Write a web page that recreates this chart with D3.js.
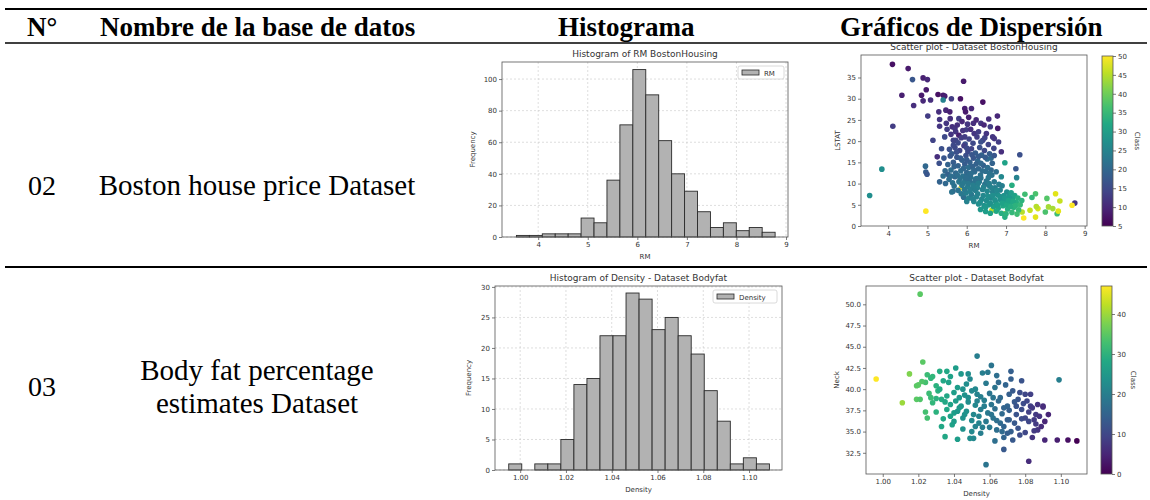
<!DOCTYPE html>
<html>
<head>
<meta charset="utf-8">
<script src="https://cdn.jsdelivr.net/npm/d3@7"></script>
<style>
    body { margin: 0; background: #fff; }
    svg { display: block; font-family: "DejaVu Sans", sans-serif; }
    .cell { font-family: "Liberation Serif", "Times New Roman", serif; fill: #000; }
    .tick text { fill: #333; }
</style>
</head>
<body>
<svg id="chart" width="1150" height="500"></svg>
<script>
// table texts
var headers = ["N°", "Nombre de la base de datos", "Histograma", "Gráficos de Dispersión"];
var rowNumbers = ["02", "03"];
var rowNames = [["Boston house price Dataset"], ["Body fat percentage", "estimates Dataset"]];

// histogram of RM (Boston housing), 20 bins between min and max
var rmRange = [3.561, 8.78];
var rmCounts = [1, 1, 2, 2, 2, 12, 9, 36, 71, 106, 90, 61, 40, 29, 16, 6, 9, 4, 6, 3];
var rmTicks = [4, 5, 6, 7, 8, 9];
var freqTicksBoston = [0, 20, 40, 60, 80, 100];

// histogram of Density (Bodyfat), 20 bins
var densityRange = [0.995, 1.1089];
var densityCounts = [1, 0, 1, 1, 5, 14, 15, 22, 22, 29, 28, 23, 25, 22, 19, 13, 8, 1, 2, 1];
var densityTicks = [1.00, 1.02, 1.04, 1.06, 1.08, 1.10];
var freqTicksBodyfat = [0, 5, 10, 15, 20, 25, 30];

// scatter Boston: [RM, LSTAT, Class]
var bostonPoints = [
    [4.11,38.1,7],[4.51,37.1,8],[4.62,34.5,17],[4.35,30.8,9],[4.65,28.4,11],[4.12,23.5,13],[3.84,13.4,27],
    [3.53,7.2,27],[4.96,3.5,50],[4.89,34.9,9],[5.0,34.5,10],[4.85,30.8,8],[4.89,29.5,10],[4.97,32.1,8],
    [5.08,29.7,11],[5.01,25.9,13],[4.95,14.1,20],[4.96,12.7,18],[4.99,12.2,17],[5.27,31.0,7],[5.4,30.8,8],
    [5.44,30.6,9],[5.4,29.7,25],[5.61,30.0,13],[5.84,30.0,7],[5.92,34.1,8],[6.41,29.2,7],[5.95,27.7,9],
    [6.12,27.7,10],[5.97,26.9,8],[6.78,25.9,10],[5.14,20.2,14],[5.25,16.3,11],[5.31,25.1,12],[5.29,26.9,11],
    [5.47,27.3,10],[5.57,26.9,9],[5.48,24.2,12],[5.58,25.3,11],[5.8,25.3,13],[5.31,23.5,12],[5.63,23.4,11],
    [5.72,22.2,12],[5.8,21.4,9],[5.99,22.7,13],[6.17,24.2,11],[6.36,24.2,12],[6.44,23.8,10],[6.6,23.4,13],
    [6.79,23.0,8],[6.19,21.8,12],[6.41,20.2,14],[6.66,21.0,12],[6.81,19.8,13],[6.88,17.5,11],[5.44,21.0,15],
    [5.72,20.2,14],[5.95,21.0,13],[6.69,18.3,14],[7.35,16.8,16],[6.97,14.9,31],[7.25,13.5,17],[7.27,11.4,25],
    [6.88,11.6,26],[6.64,12.0,22],[7.15,9.6,33],[6.22,9.6,50],[5.86,9.0,50],[5.31,10.4,19],[5.65,8.2,20],
    [5.92,6.8,21],[7.48,7.5,36],[7.75,7.6,37],[7.66,6.7,35],[8.26,7.6,48],[8.37,5.9,46],[8.75,5.4,12],
    [8.68,4.9,50],[8.04,6.5,38],[8.08,4.5,44],[8.0,3.3,37],[7.75,2.1,48],[7.45,1.9,50],[7.41,3.3,45],
    [7.61,3.7,46],[7.81,4.1,47],[7.77,4.6,45],[8.19,4.1,44],[8.3,2.9,36],[8.33,3.5,48],[6.97,2.9,47],
    [6.97,2.1,33],[6.64,3.7,46],
    [5.66,20.2,14],[5.78,19.6,15],[5.86,20.8,13],[5.96,19.3,16],[6.06,20.5,14],[6.16,19.5,15],[6.26,21.0,13],
    [6.36,19.8,16],[6.46,20.8,14],[5.70,23.0,12],[5.90,22.5,12],[6.10,22.8,11],[6.30,22.2,13],[6.50,21.8,12],
    [5.56,18.1,16],[5.62,17.0,18],[5.70,18.5,15],[5.75,16.2,17],[5.82,17.8,14],[5.88,15.5,19],[5.93,18.9,13],
    [5.98,16.6,16],[6.03,17.5,15],[6.08,15.0,19],[6.12,18.2,14],[6.17,16.0,17],[6.22,17.2,18],[6.28,15.3,20],
    [6.33,18.5,16],[6.38,16.7,19],[6.45,17.8,15],[6.52,15.8,21],[6.58,17.0,18],[6.62,16.0,20],
    [5.52,14.5,19],[5.60,13.2,21],[5.66,15.0,18],[5.72,12.5,20],[5.78,14.2,19],[5.85,13.0,21],[5.90,11.8,22],
    [5.95,14.6,18],[6.00,12.6,20],[6.05,13.8,21],[6.10,11.5,22],[6.15,14.0,19],[6.20,12.8,21],[6.25,11.2,23],
    [6.30,13.5,20],[6.35,12.0,22],[6.42,14.3,19],[6.48,12.9,21],[6.55,11.4,23],[6.62,13.2,20],
    [5.55,11.0,21],[5.64,10.2,22],[5.70,11.6,20],[5.80,10.4,23],[5.88,9.6,23],[5.96,10.8,22],[6.02,9.2,24],
    [6.08,10.6,21],[6.14,8.8,24],[6.19,10.1,22],[6.27,9.0,25],[6.32,10.4,23],[6.40,8.6,25],[6.46,9.8,22],
    [6.52,8.2,26],[6.58,9.4,24],[6.66,8.0,25],[6.72,9.0,24],[6.78,7.4,27],[6.85,8.5,25],
    [5.98,7.8,24],[6.05,6.6,25],[6.12,7.4,23],[6.18,5.8,26],[6.25,6.9,25],[6.30,5.2,27],[6.38,6.3,26],
    [6.44,4.8,28],[6.50,6.0,27],[6.56,5.0,29],[6.62,6.6,26],[6.68,4.6,30],[6.74,5.6,29],[6.80,4.2,31],
    [6.86,6.2,28],[6.92,4.8,32],[6.98,5.8,30],[7.04,4.0,33],[7.10,5.2,32],[7.16,6.4,30],[7.20,4.4,34],
    [7.26,5.6,33],[7.32,3.8,35],[7.08,7.0,29],[7.02,8.0,27],[6.95,7.2,28],[6.90,9.5,24],[7.13,7.8,30],
    [7.22,7.2,31],[6.35,3.9,29],[6.48,3.4,30],[6.60,3.0,31],[6.75,3.5,32],[6.88,3.0,33],[7.00,2.9,34],
    [7.15,3.2,35],[7.28,2.8,36],[5.45,13.0,20],[5.40,11.8,21],[5.46,10.0,20],[5.62,8.0,22],[5.52,12.2,19],
    [5.58,16.5,17],[5.68,14.0,19],[5.74,17.4,16],[5.84,16.0,18],[5.92,13.6,20],[6.00,15.6,18],[6.06,12.0,21],
    [6.13,16.8,17],[6.18,13.2,20],[6.24,14.6,19],[6.30,16.4,18],[6.36,14.8,20],[6.40,13.0,21],[6.47,16.2,18],
    [6.53,13.8,21],[6.58,12.4,22],[6.65,14.8,19],[6.70,16.6,17],[6.75,12.8,21],
    [5.60,11.8,21],[5.68,9.4,22],[5.76,12.0,21],[5.83,11.2,22],[5.92,10.2,23],[5.99,11.4,21],[6.04,10.0,23],
    [6.11,12.4,21],[6.16,9.6,24],[6.22,11.0,22],[6.29,10.0,24],[6.36,11.3,22],[6.43,9.2,25],[6.50,10.6,23],
    [6.57,10.0,24],[6.63,9.0,25],[6.70,10.4,23],[6.76,8.4,26],[6.82,9.8,24],
    [5.78,8.4,22],[5.86,7.6,23],[5.94,8.6,23],[6.00,5.8,25],[6.08,8.2,24],[6.15,6.4,25],[6.22,8.4,24],
    [6.28,7.6,25],[6.34,5.6,27],[6.42,7.2,26],[6.48,4.4,29],[6.54,7.0,27],[6.60,5.4,28],[6.66,7.2,27],
    [6.72,6.2,28],[6.78,5.0,30],[6.84,7.0,28],[6.90,5.4,31],[6.96,6.6,29],[7.02,5.0,32],[7.06,6.0,31],
    [7.12,4.6,33],[7.18,5.8,32],[7.24,4.8,34],[7.30,6.6,33],[7.36,5.0,35],[7.40,6.0,34],
    [5.50,22.8,13],[5.60,21.6,12],[5.76,23.8,11],[5.88,24.6,10],[6.02,24.0,12],[6.05,25.6,9],[6.24,25.0,10],
    [6.56,25.2,11],[5.66,19.0,15],[6.00,18.4,15],[6.55,19.2,14],[6.70,20.6,12],[5.36,18.2,16],[5.42,16.0,17],
    [5.30,14.8,16]
];
var bostonXTicks = [4, 5, 6, 7, 8, 9];
var bostonYTicks = [0, 5, 10, 15, 20, 25, 30, 35];
var bostonClassTicks = [5, 10, 15, 20, 25, 30, 35, 40, 45, 50];

// scatter Bodyfat: [Density, Neck, Class]
var bodyfatPoints = [
    [1.021,51.2,35],[0.9963,41.2,47],[1.011,38.4,40],[1.015,41.8,38],[1.0225,43.2,35],[1.053,43.9,20],
    [1.099,41.1,20],[1.058,31.1,18],[1.082,31.5,6],[1.109,33.9,0],[1.104,34.0,2],[1.098,34.0,4],
    [1.091,34.0,5],[1.084,34.3,7],[1.093,37.0,5],[1.091,36.2,5],[1.090,38.0,6],[1.068,32.9,13],
    [1.025,36.6,33],[1.019,38.8,35],[1.019,40.4,35],[1.021,38.8,34],[1.033,35.6,28],[1.035,34.4,28],
    [1.039,35.8,27],[1.042,34.1,26],[1.049,34.2,23],[1.051,34.2,22],[1.063,33.9,17],[1.072,42.1,14],
    [1.061,42.8,18],[1.041,42.5,26],[1.036,42.1,28],[1.032,42.1,29],[1.028,41.5,31],[1.025,41.7,32],
    [1.027,41.3,31],[1.034,41.0,28],[1.044,41.8,25],[1.049,41.2,22],[1.056,41.9,20],[1.064,41.6,17],
    [1.072,41.2,14],[1.078,41.0,12],
    [1.024,40.8,33],[1.030,40.4,30],[1.037,40.8,27],[1.042,40.2,26],[1.047,40.6,23],[1.052,40.0,22],
    [1.058,40.7,19],[1.063,40.2,18],[1.069,40.5,15],[1.080,39.4,10],[1.083,39.4,9],
    [1.026,39.5,32],[1.031,39.8,30],[1.036,39.2,28],[1.040,39.6,26],[1.046,39.3,24],[1.050,39.8,22],
    [1.055,39.1,20],[1.060,39.5,18],[1.066,39.0,16],[1.071,39.4,14],[1.076,38.8,12],
    [1.028,38.4,31],[1.033,38.8,29],[1.038,38.2,27],[1.041,38.6,26],[1.044,38.0,25],[1.048,38.5,23],
    [1.052,38.1,22],[1.057,38.7,20],[1.061,38.2,18],[1.065,38.6,16],[1.070,38.0,15],[1.074,38.5,13],
    [1.079,38.3,11],[1.083,38.0,9],[1.087,38.2,7],[1.090,37.9,6],
    [1.030,37.3,30],[1.036,37.6,28],[1.040,37.2,26],[1.043,37.8,25],[1.047,37.4,24],[1.051,37.0,22],
    [1.055,37.6,20],[1.059,37.2,19],[1.063,37.7,17],[1.067,37.1,16],[1.071,37.5,14],[1.075,37.0,12],
    [1.078,37.6,11],[1.082,37.3,9],[1.086,37.0,8],
    [1.034,36.5,28],[1.040,36.2,26],[1.045,36.6,24],[1.050,36.3,22],[1.054,36.8,21],[1.058,36.2,19],
    [1.062,36.6,18],[1.066,36.0,16],[1.070,36.4,14],[1.074,36.0,13],[1.078,36.5,11],[1.082,36.2,10],
    [1.086,35.9,8],
    [1.045,35.3,24],[1.052,35.6,21],[1.060,35.5,19],[1.064,35.2,17],[1.068,35.6,15],[1.072,35.0,14],
    [1.076,35.4,12],[1.080,34.9,10],[1.087,35.2,7],[1.085,35.1,8],[1.055,34.8,20],[1.068,34.3,15],
    [1.073,34.0,13],[1.077,34.6,11],[1.022,40.9,34],[1.020,40.5,35],[1.027,39.0,32],[1.030,38.9,30],
    [1.024,37.3,33],
    [1.032,40.0,29],[1.038,41.5,27],[1.043,39.0,25],[1.048,41.8,23],[1.053,39.4,21],[1.057,38.0,20],
    [1.059,42.0,19],[1.062,39.0,18],[1.065,40.8,16],[1.068,37.8,15],[1.071,36.4,14],[1.073,39.8,13],
    [1.075,38.0,12],[1.077,39.6,11],[1.080,36.6,10],[1.081,38.6,10],[1.084,37.8,8],[1.085,36.4,8],
    [1.088,36.8,7],[1.089,35.6,6],[1.046,37.0,24],[1.050,35.0,22],[1.054,36.0,21],[1.056,35.5,20],
    [1.061,37.0,18],[1.064,36.3,17],[1.067,35.0,16],[1.070,34.8,14],[1.038,36.8,27],[1.035,38.5,28],
    [1.042,37.4,25],[1.048,39.0,23],[1.053,38.6,21],[1.045,40.0,24]
];
var bodyfatXTicks = [1.00, 1.02, 1.04, 1.06, 1.08, 1.10];
var bodyfatYTicks = [32.5, 35.0, 37.5, 40.0, 42.5, 45.0, 47.5, 50.0];
var bodyfatClassTicks = [0, 10, 20, 30, 40];

var svg = d3.select("#chart");
svg.append("rect").attr("width", 1150).attr("height", 500).attr("fill", "#fff");

// ---------- table ----------
var rules = [{y: 9, w: 2}, {y: 43, w: 1.5}, {y: 267, w: 2}];
svg.append("g").selectAll("line").data(rules).join("line")
    .attr("x1", 5).attr("x2", 1147)
    .attr("y1", function(d) { return d.y; }).attr("y2", function(d) { return d.y; })
    .attr("stroke", "#000").attr("stroke-width", function(d) { return d.w; });

// header columns: left edge of each title
var headerX = [27, 100, 558, 840];
svg.append("g").selectAll("text").data(headers).join("text")
    .attr("class", "cell")
    .attr("x", function(d, i) { return headerX[i]; })
    .attr("y", 36)
    .style("font-size", "27px").style("font-weight", "bold")
    .text(function(d) { return d; });

var rowCenters = [186, 387];
rowNumbers.forEach(function(n, i) {
    svg.append("text").attr("class", "cell")
        .attr("x", 42).attr("y", rowCenters[i] + 9)
        .attr("text-anchor", "middle")
        .style("font-size", "28px")
        .text(n);
    var lines = rowNames[i];
    lines.forEach(function(t, j) {
        svg.append("text").attr("class", "cell")
            .attr("x", 257)
            .attr("y", rowCenters[i] + 9 + (j - (lines.length - 1) / 2) * 33)
            .attr("text-anchor", "middle")
            .style("font-size", "29px")
            .text(t);
    });
});

// ---------- helpers ----------
function styleAxis(sel) {
    sel.select(".domain").remove();
    sel.selectAll(".tick line").attr("stroke", "#444").attr("stroke-width", 0.7);
    sel.selectAll(".tick text").style("font-size", "7px").style("font-family", "DejaVu Sans, sans-serif");
}

function frame(g, b) {
    g.append("rect")
        .attr("x", b.left).attr("y", b.top)
        .attr("width", b.right - b.left).attr("height", b.bottom - b.top)
        .attr("fill", "none").attr("stroke", "#555").attr("stroke-width", 0.8);
}

function labels(g, b, o) {
    g.append("text")
        .attr("x", (b.left + b.right) / 2).attr("y", b.top - 5)
        .attr("text-anchor", "middle").style("font-size", "9px").attr("fill", "#333")
        .text(o.title);
    g.append("text")
        .attr("x", (b.left + b.right) / 2).attr("y", b.bottom + 22)
        .attr("text-anchor", "middle").style("font-size", "7px").attr("fill", "#333")
        .text(o.xLabel);
    g.append("text")
        .attr("transform", "translate(" + o.yLabelX + "," + (b.top + b.bottom) / 2 + ") rotate(-90)")
        .attr("text-anchor", "middle").style("font-size", "7px").attr("fill", "#333")
        .text(o.yLabel);
}

function histogram(o) {
    var b = o.box;
    var g = svg.append("g");
    var x = d3.scaleLinear().domain(o.xDomain).range([b.left, b.right]);
    var y = d3.scaleLinear().domain(o.yDomain).range([b.bottom, b.top]);
    var step = (o.range[1] - o.range[0]) / o.counts.length;

    // grid
    g.append("g").selectAll("line").data(o.xTicks).join("line")
        .attr("x1", x).attr("x2", x).attr("y1", b.top).attr("y2", b.bottom)
        .attr("stroke", "#c8c8c8").attr("stroke-width", 0.6).attr("stroke-dasharray", "2,2");
    g.append("g").selectAll("line").data(o.yTicks).join("line")
        .attr("y1", y).attr("y2", y).attr("x1", b.left).attr("x2", b.right)
        .attr("stroke", "#c8c8c8").attr("stroke-width", 0.6).attr("stroke-dasharray", "2,2");

    g.append("g").selectAll("rect").data(o.counts).join("rect")
        .attr("x", function(d, i) { return x(o.range[0] + i * step); })
        .attr("width", function(d, i) { return x(o.range[0] + (i + 1) * step) - x(o.range[0] + i * step); })
        .attr("y", function(d) { return y(d); })
        .attr("height", function(d) { return y(0) - y(d); })
        .attr("fill", "#b2b2b2").attr("stroke", "#2a2a2a").attr("stroke-width", 0.9);

    g.append("g").attr("transform", "translate(0," + b.bottom + ")")
        .call(d3.axisBottom(x).tickValues(o.xTicks).tickFormat(o.xFormat).tickSize(3).tickPadding(2))
        .call(styleAxis);
    g.append("g").attr("transform", "translate(" + b.left + ",0)")
        .call(d3.axisLeft(y).tickValues(o.yTicks).tickFormat(d3.format("d")).tickSize(3).tickPadding(2))
        .call(styleAxis);
    frame(g, b);
    labels(g, b, o);

    // legend
    var l = o.legend;
    g.append("rect").attr("x", l.x).attr("y", l.y).attr("width", l.w).attr("height", 13)
        .attr("rx", 2).attr("fill", "#fff").attr("fill-opacity", 0.85)
        .attr("stroke", "#d0d0d0").attr("stroke-width", 0.8);
    g.append("rect").attr("x", l.x + 4).attr("y", l.y + 4).attr("width", 17).attr("height", 5)
        .attr("fill", "#b2b2b2").attr("stroke", "#2a2a2a").attr("stroke-width", 0.8);
    g.append("text").attr("x", l.x + 26).attr("y", l.y + 9.5)
        .style("font-size", "7px").attr("fill", "#333").text(o.legendLabel);
}

function scatter(o) {
    var b = o.box;
    var g = svg.append("g");
    var x = d3.scaleLinear().domain(o.xDomain).range([b.left, b.right]);
    var y = d3.scaleLinear().domain(o.yDomain).range([b.bottom, b.top]);
    var c = d3.scaleSequential(d3.interpolateViridis).domain(o.cDomain);

    g.append("g").selectAll("circle").data(o.points).join("circle")
        .attr("cx", function(d) { return x(d[0]); })
        .attr("cy", function(d) { return y(d[1]); })
        .attr("r", 2.8)
        .attr("fill", function(d) { return c(d[2]); });

    g.append("g").attr("transform", "translate(0," + b.bottom + ")")
        .call(d3.axisBottom(x).tickValues(o.xTicks).tickFormat(o.xFormat).tickSize(3).tickPadding(2))
        .call(styleAxis);
    g.append("g").attr("transform", "translate(" + b.left + ",0)")
        .call(d3.axisLeft(y).tickValues(o.yTicks).tickFormat(o.yFormat).tickSize(3).tickPadding(2))
        .call(styleAxis);
    frame(g, b);
    labels(g, b, o);

    // colorbar
    var cb = o.bar;
    var gradId = "grad" + o.id;
    var grad = svg.append("defs").append("linearGradient").attr("id", gradId)
        .attr("x1", 0).attr("y1", 1).attr("x2", 0).attr("y2", 0);
    d3.range(0, 1.001, 0.1).forEach(function(t) {
        grad.append("stop").attr("offset", t).attr("stop-color", d3.interpolateViridis(t));
    });
    var cy = d3.scaleLinear().domain(o.cDomain).range([cb.bottom, cb.top]);
    g.append("rect").attr("x", cb.left).attr("y", cb.top)
        .attr("width", cb.right - cb.left).attr("height", cb.bottom - cb.top)
        .attr("fill", "url(#" + gradId + ")").attr("stroke", "#555").attr("stroke-width", 0.8);
    g.append("g").attr("transform", "translate(" + cb.right + ",0)")
        .call(d3.axisRight(cy).tickValues(o.cTicks).tickFormat(d3.format("d")).tickSize(3).tickPadding(2))
        .call(styleAxis);
    g.append("text")
        .attr("transform", "translate(" + o.cLabelX + "," + (cb.top + cb.bottom) / 2 + ") rotate(90)")
        .attr("text-anchor", "middle").style("font-size", "7px").attr("fill", "#333")
        .text("Class");
}

// ---------- charts ----------
histogram({
    box: {left: 502, right: 788, top: 62, bottom: 237},
    xDomain: [3.27, 9.04], yDomain: [0, 110.8],
    range: rmRange, counts: rmCounts,
    xTicks: rmTicks, yTicks: freqTicksBoston, xFormat: d3.format("d"),
    title: "Histogram of RM BostonHousing", xLabel: "RM", yLabel: "Frequency", yLabelX: 475,
    legend: {x: 738, y: 66, w: 46}, legendLabel: "RM"
});

histogram({
    box: {left: 495, right: 782, top: 286, bottom: 470},
    xDomain: [0.989, 1.1144], yDomain: [0, 30.15],
    range: densityRange, counts: densityCounts,
    xTicks: densityTicks, yTicks: freqTicksBodyfat, xFormat: d3.format(".2f"),
    title: "Histogram of Density - Dataset Bodyfat", xLabel: "Density", yLabel: "Frequency", yLabelX: 471,
    legend: {x: 713, y: 290, w: 64}, legendLabel: "Density"
});

scatter({
    id: 1,
    box: {left: 861, right: 1087, top: 55, bottom: 226},
    xDomain: [3.31, 9.06], yDomain: [0, 40.3],
    points: bostonPoints, cDomain: [5, 50],
    xTicks: bostonXTicks, yTicks: bostonYTicks, cTicks: bostonClassTicks,
    xFormat: d3.format("d"), yFormat: d3.format("d"),
    title: "Scatter plot - Dataset BostonHousing", xLabel: "RM", yLabel: "LSTAT", yLabelX: 840,
    bar: {left: 1102, right: 1113, top: 56, bottom: 226}, cLabelX: 1135
});

scatter({
    id: 2,
    box: {left: 866, right: 1087, top: 286, bottom: 474},
    xDomain: [0.9906, 1.1147], yDomain: [30.0, 52.16],
    points: bodyfatPoints, cDomain: [0, 47],
    xTicks: bodyfatXTicks, yTicks: bodyfatYTicks, cTicks: bodyfatClassTicks,
    xFormat: d3.format(".2f"), yFormat: d3.format(".1f"),
    title: "Scatter plot - Dataset Bodyfat", xLabel: "Density", yLabel: "Neck", yLabelX: 839,
    bar: {left: 1101, right: 1112, top: 286, bottom: 474}, cLabelX: 1131
});
</script>
</body>
</html>
